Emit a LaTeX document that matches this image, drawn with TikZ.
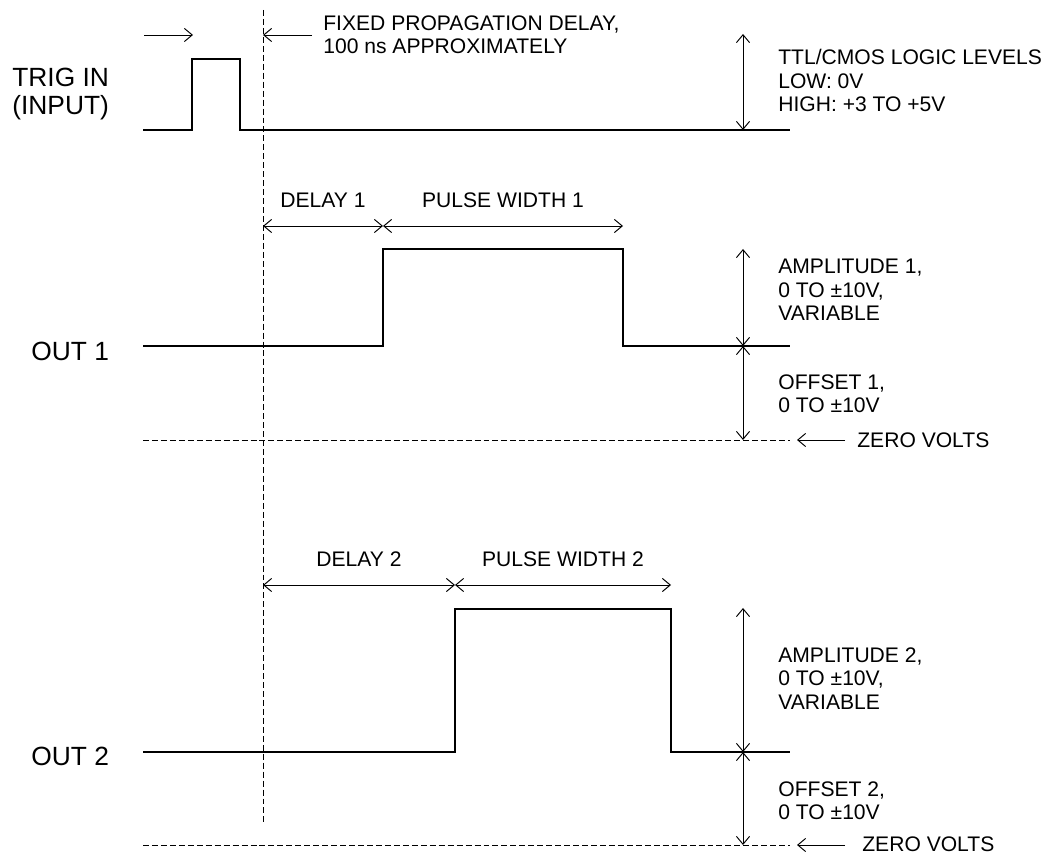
\documentclass[tikz,border=0pt]{standalone}
\usepackage{fontspec}
\setmainfont{Liberation Sans}
\usetikzlibrary{positioning, calc, arrows.meta}

\tikzset{
    sig/.style={line width=0.75pt},
    dimarrow/.style={line width=0.55pt, {Straight Barb[length=4.5pt,width=7.5pt]}-{Straight Barb[length=4.5pt,width=7.5pt]}},
    ptr/.style={line width=0.55pt, -{Straight Barb[length=4.5pt,width=7.5pt]}},
    zeroline/.style={line width=0.55pt, dash pattern=on 3.4pt off 1.7pt},
    lbl/.style={font=\fontsize{12}{13.4}\selectfont, align=left, inner sep=0pt},
    biglbl/.style={font=\fontsize{15}{15.6}\selectfont, align=left, inner sep=0pt}
}

\begin{document}
\begin{tikzpicture}[x=0.02cm, y=-0.02cm]
            \useasboundingbox (0,0) rectangle (1045,854);

            % trigger input
            \draw[sig] (143,130) -- ++(49,0) -- ++(0,-71) -- ++(48,0) -- ++(0,71) -- (790,130);
            \node[biglbl, anchor=north west] (trig) at (12,68) {TRIG IN\\(INPUT)};
            \coordinate (tin0) at (144,35);
            \coordinate (tin1) at (193,35);
            \draw[ptr] (tin0) -- (tin1);
            \coordinate (fix0) at (312,35);
            \coordinate (fix1) at (263,35);
            \draw[ptr] (fix0) -- (fix1);
            \node[lbl, anchor=north west] (fixed) at (323,15) {FIXED PROPAGATION DELAY,\\100 ns APPROXIMATELY};
            \coordinate (ttl0) at (743,34);
            \coordinate (ttl1) at (743,130);
            \draw[dimarrow] (ttl0) -- (ttl1);
            \node[lbl, anchor=north west] (ttl) at (778,49) {TTL/CMOS LOGIC LEVELS\\LOW: 0V\\HIGH: +3 TO +5V};

            % trigger reference
            \coordinate (ref0) at (263,10);
            \coordinate (ref1) at (263,822);
            \draw[zeroline] (ref0) -- (ref1);

            % output 1
            \draw[sig] (143,346) -- ++(240,0) -- ++(0,-97) -- ++(240,0) -- ++(0,97) -- (790,346);
            \node[biglbl, anchor=north west] (out1) at (31,342) {OUT 1};
            \coordinate (dl1a) at (263,226);
            \coordinate (dl1b) at (383,226);
            \coordinate (dl1c) at (623,226);
            \draw[dimarrow] (dl1a) -- node[lbl, above=0.36cm] (delay1) {DELAY 1} (dl1b);
            \draw[dimarrow] (dl1b) -- node[lbl, above=0.36cm] (width1) {PULSE WIDTH 1} (dl1c);
            \coordinate (am1a) at (743,249);
            \coordinate (am1b) at (743,346);
            \coordinate (am1c) at (743,440);
            \draw[dimarrow] (am1b) -- (am1a);
            \draw[dimarrow] (am1b) -- (am1c);
            \node[lbl, anchor=north west] (amp1) at (778,259) {AMPLITUDE 1,\\0 TO ±10V,\\VARIABLE};
            \node[lbl, anchor=north west] (off1) at (778,374) {OFFSET 1,\\0 TO ±10V};
            \coordinate (zl1a) at (143,440);
            \coordinate (zl1b) at (790,440);
            \draw[zeroline] (zl1a) -- (zl1b);
            \node[lbl, anchor=west] (zero1) at (857,440) {ZERO VOLTS};
            \coordinate (zp1) at (845,440);
            \draw[ptr] (zp1) -- ++(-48,0);

            % output 2
            \draw[sig] (143,752) -- ++(312,0) -- ++(0,-143) -- ++(216,0) -- ++(0,143) -- (790,752);
            \node[biglbl, anchor=north west] (out2) at (31,747) {OUT 2};
            \coordinate (dl2a) at (263,585);
            \coordinate (dl2b) at (455,585);
            \coordinate (dl2c) at (671,585);
            \draw[dimarrow] (dl2a) -- node[lbl, above=0.36cm] (delay2) {DELAY 2} (dl2b);
            \draw[dimarrow] (dl2b) -- node[lbl, above=0.36cm] (width2) {PULSE WIDTH 2} (dl2c);
            \coordinate (am2a) at (743,608);
            \coordinate (am2b) at (743,752);
            \coordinate (am2c) at (743,845);
            \draw[dimarrow] (am2b) -- (am2a);
            \draw[dimarrow] (am2b) -- (am2c);
            \node[lbl, anchor=north west] (amp2) at (778,647) {AMPLITUDE 2,\\0 TO ±10V,\\VARIABLE};
            \node[lbl, anchor=north west] (off2) at (778,781) {OFFSET 2,\\0 TO ±10V};
            \coordinate (zl2a) at (143,845);
            \coordinate (zl2b) at (790,845);
            \draw[zeroline] (zl2a) -- (zl2b);
            \node[lbl, anchor=west] (zero2) at (862,844) {ZERO VOLTS};
            \coordinate (zp2) at (845,845);
            \draw[ptr] (zp2) -- ++(-48,0);
        \end{tikzpicture}
\end{document}
